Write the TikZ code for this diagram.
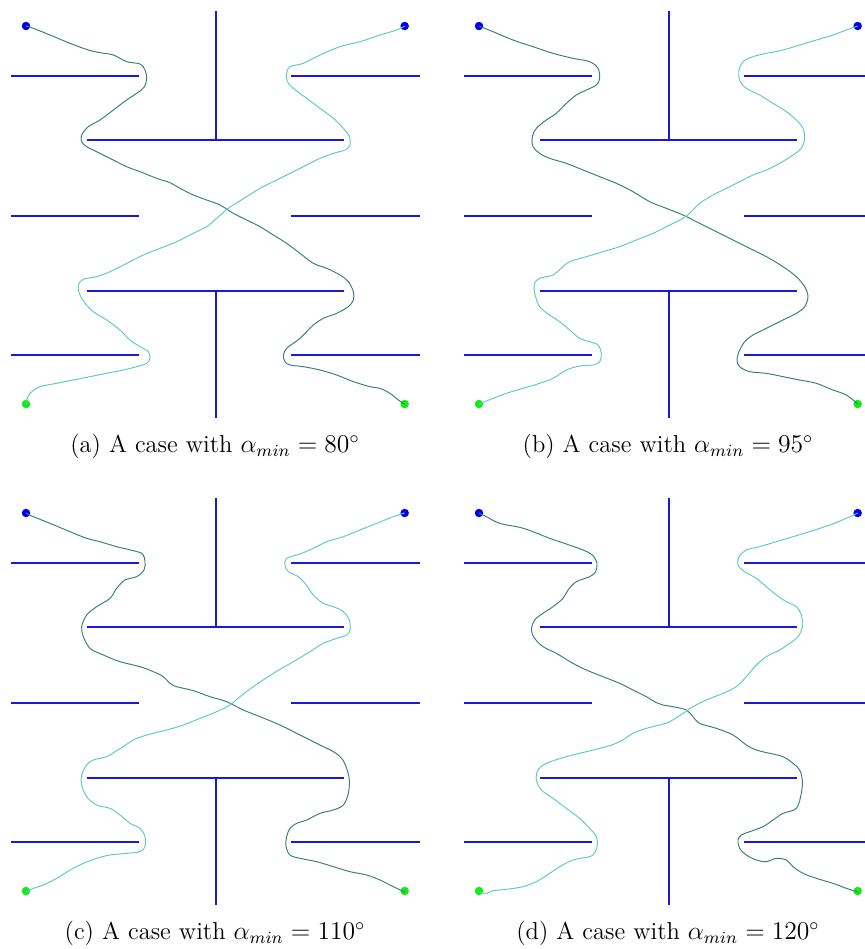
\documentclass[tikz,border=0pt]{standalone}
\usepackage{tikz}
\usepackage{xcolor}
\usetikzlibrary{calc}
\definecolor{wallblue}{RGB}{25,25,215}
\definecolor{startblue}{RGB}{0,0,235}
\definecolor{goalgreen}{RGB}{20,235,20}
\definecolor{routedark}{RGB}{55,125,128}
\definecolor{routelight}{RGB}{95,200,200}
\tikzset{
  wall/.style={draw=wallblue,line width=0.9pt},
  routeA/.style={draw=routedark,line width=0.45pt,smooth,tension=0.55},   % blue dot left -> green dot right
  routeB/.style={draw=routelight,line width=0.45pt,smooth,tension=0.55},  % blue dot right -> green dot left
  startdot/.style={circle,fill=startblue,inner sep=0pt,minimum size=1.4mm},
  goaldot/.style={circle,fill=goalgreen,inner sep=0pt,minimum size=1.4mm},
  caption/.style={font=\fontsize{11.5pt}{13pt}\selectfont,inner sep=0pt},
}
% walls of one panel, local coordinates
\newcommand{\mazewalls}[1]{%
  \draw[wall] (648,33) -- (648,420);
  \draw[wall] (260,420) -- (1032,420);
  \draw[wall] (260,873) -- (1032,873);
  \draw[wall] (648,873) -- (648,1255);
  \foreach \yy in {228,647,1066}{
    \draw[wall] (33,\yy) -- (418,\yy);
    \draw[wall] (874,\yy) -- (1260,\yy);
  }
  \node[startdot] (#1s1) at (78,78) {};
  \node[startdot] (#1s2) at (1214,78) {};
  \node[goaldot] (#1g1) at (78,1212) {};
  \node[goaldot] (#1g2) at (1214,1212) {};
}

\begin{document}
\begin{tikzpicture}[x=0.0055cm,y=-0.0055cm]
\useasboundingbox (0,0) rectangle (2595,2847);
\clip (0,0) rectangle (2595,2847);

% --- (a) ---
\begin{scope}
\mazewalls{a}
\draw[routeA] plot coordinates {(78,78) (100,85) (150,105) (210,130) (265,150) (300,158) (340,165) (380,185) (420,192) (435,210) (440,235) (432,262) (410,280) (380,300) (340,330) (300,360) (265,380) (245,405) (245,425) (260,440) (290,455) (330,475) (380,500) (420,515) (470,535) (510,548) (540,565) (580,585) (620,600) (660,615) (700,640) (740,660) (780,680) (820,705) (860,730) (900,760) (940,790) (980,805) (1020,825) (1045,845) (1060,875) (1060,900) (1045,920) (1010,940) (970,955) (940,975) (920,995) (900,1015) (880,1030) (860,1045) (850,1065) (855,1085) (870,1095) (910,1100) (960,1110) (1010,1125) (1060,1145) (1110,1160) (1140,1165) (1170,1180) (1195,1200) (1214,1212)};
\draw[routeB] plot coordinates {(1214,78) (1190,90) (1140,105) (1080,125) (1020,140) (960,165) (910,190) (870,200) (860,220) (862,245) (880,265) (920,295) (960,325) (1000,355) (1030,385) (1048,410) (1050,435) (1035,450) (1000,460) (960,475) (920,495) (870,520) (820,545) (780,565) (740,590) (700,615) (680,628) (650,655) (620,680) (580,700) (530,725) (480,745) (430,765) (380,790) (330,815) (290,830) (250,838) (235,855) (238,880) (255,910) (280,935) (320,960) (360,990) (390,1020) (420,1040) (445,1055) (450,1075) (440,1090) (410,1100) (370,1110) (320,1120) (270,1130) (220,1140) (170,1150) (120,1160) (90,1180) (80,1200) (78,1212)};
\node[caption] (capa) at (645,1340) {(a) A case with $\alpha_{min} = 80^\circ$};
\end{scope}

% --- (b) ---
\begin{scope}[shift={(1299,0)}]
\begin{scope}[shift={(60,0)}]\mazewalls{b}\end{scope}
\draw[routeA] plot coordinates {(138,78) (180,95) (240,120) (300,140) (360,160) (420,175) (470,185) (495,205) (500,235) (490,255) (460,270) (430,285) (400,310) (370,340) (340,360) (310,385) (298,410) (300,440) (320,460) (350,475) (400,490) (450,510) (500,530) (550,550) (600,575) (650,605) (700,625) (750,645) (800,670) (850,695) (900,720) (950,745) (1000,770) (1050,800) (1090,830) (1115,860) (1125,890) (1115,920) (1090,940) (1050,960) (1000,985) (960,1005) (935,1025) (920,1050) (912,1080) (920,1100) (950,1115) (1000,1120) (1050,1130) (1100,1140) (1150,1150) (1200,1170) (1240,1185) (1274,1212)};
\draw[routeB] plot coordinates {(1274,78) (1240,90) (1200,105) (1150,120) (1100,135) (1050,150) (1000,160) (960,170) (930,185) (918,210) (920,240) (940,265) (980,285) (1020,310) (1060,335) (1090,360) (1110,385) (1115,415) (1105,445) (1080,465) (1040,490) (1000,510) (960,525) (920,545) (880,565) (840,585) (800,610) (775,635) (750,655) (710,675) (660,700) (610,720) (560,740) (510,755) (460,770) (410,785) (390,800) (360,825) (320,835) (305,850) (305,880) (320,920) (350,945) (380,965) (410,990) (440,1015) (470,1025) (495,1035) (505,1060) (500,1085) (480,1095) (440,1098) (400,1110) (360,1135) (320,1150) (270,1165) (220,1180) (180,1195) (138,1212)};
\node[caption] (capb) at (705,1340) {(b) A case with $\alpha_{min} = 95^\circ$};
\end{scope}

% --- (c) ---
\begin{scope}[shift={(0,1440)}]
\begin{scope}[shift={(0,21)}]\mazewalls{c}\end{scope}
\draw[routeA] plot coordinates {(78,99) (100,110) (150,130) (210,155) (260,175) (300,185) (350,200) (400,212) (428,222) (435,245) (432,270) (410,290) (375,300) (350,325) (330,355) (290,380) (260,405) (245,440) (250,470) (270,505) (310,525) (360,545) (420,560) (460,575) (490,590) (510,610) (530,620) (580,632) (630,650) (680,665) (730,690) (780,710) (840,735) (900,765) (960,795) (1000,815) (1025,835) (1040,865) (1048,900) (1045,940) (1030,975) (1000,990) (960,1000) (920,1020) (890,1030) (870,1045) (860,1070) (858,1100) (870,1125) (900,1135) (950,1145) (1000,1160) (1050,1175) (1100,1185) (1140,1200) (1180,1220) (1214,1236)};
\draw[routeB] plot coordinates {(1214,99) (1180,110) (1130,130) (1080,150) (1030,170) (980,185) (940,205) (900,222) (860,235) (855,255) (865,275) (895,290) (915,310) (940,345) (970,370) (1000,380) (1030,395) (1048,420) (1050,450) (1040,465) (1010,475) (970,490) (930,515) (880,545) (820,580) (760,620) (720,650) (690,675) (650,695) (600,715) (550,735) (500,750) (440,765) (400,780) (370,800) (345,815) (320,830) (280,840) (260,855) (245,885) (245,915) (260,950) (290,975) (330,985) (360,1005) (390,1030) (420,1045) (435,1070) (435,1100) (420,1115) (380,1120) (330,1125) (290,1135) (250,1150) (210,1170) (170,1195) (130,1215) (100,1225) (78,1236)};
\node[caption] (capc) at (645,1361) {(c) A case with $\alpha_{min} = 110^\circ$};
\end{scope}

% --- (d) ---
\begin{scope}[shift={(1299,1440)}]
\begin{scope}[shift={(60,21)}]\mazewalls{d}\end{scope}
\draw[routeA] plot coordinates {(138,99) (160,110) (200,130) (260,142) (300,155) (350,175) (400,192) (450,210) (478,225) (492,250) (488,275) (470,290) (430,305) (405,330) (390,355) (360,380) (330,400) (305,420) (295,450) (305,475) (330,500) (370,520) (420,550) (460,570) (510,590) (560,610) (600,630) (640,650) (670,668) (690,675) (720,680) (760,690) (780,710) (800,730) (850,745) (900,765) (940,795) (970,810) (1010,820) (1050,830) (1080,850) (1100,870) (1108,900) (1105,940) (1090,985) (1050,1000) (1020,1020) (990,1040) (950,1055) (925,1065) (915,1080) (920,1105) (940,1125) (970,1140) (1000,1145) (1030,1135) (1060,1140) (1080,1160) (1110,1180) (1150,1195) (1200,1210) (1240,1225) (1274,1236)};
\draw[routeB] plot coordinates {(1274,99) (1240,115) (1190,135) (1130,155) (1080,170) (1030,185) (980,200) (940,210) (918,230) (915,255) (935,275) (970,295) (1000,320) (1030,345) (1060,365) (1090,380) (1105,405) (1108,440) (1095,470) (1070,490) (1040,510) (1000,530) (970,555) (940,590) (910,620) (870,640) (820,660) (780,680) (750,700) (710,725) (680,735) (640,745) (600,760) (560,785) (520,800) (460,815) (400,830) (340,850) (315,870) (310,900) (325,930) (360,955) (400,985) (440,1015) (470,1045) (490,1070) (492,1100) (480,1125) (460,1132) (420,1140) (380,1160) (350,1180) (310,1205) (270,1220) (220,1228) (180,1232) (160,1240) (138,1236)};
\node[caption] (capd) at (705,1361) {(d) A case with $\alpha_{min} = 120^\circ$};
\end{scope}
\end{tikzpicture}
\end{document}
